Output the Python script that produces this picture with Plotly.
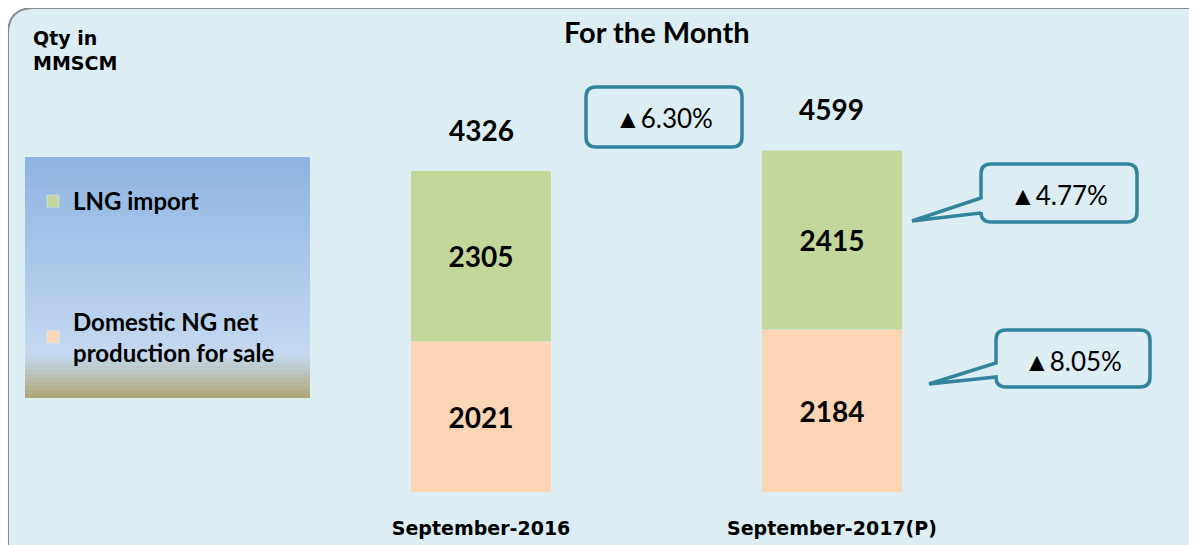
import plotly.graph_objects as go

months = ['September-2016', 'September-2017(P)']
domestic = [2021, 2184]
lng = [2305, 2415]
totals = [4326, 4599]
growth_total = '▲6.30%'
growth_lng = '▲4.77%'
growth_domestic = '▲8.05%'

W, H = 1197, 545
OFF = 8  # page body margin
BOTTOM = 61
PLOT_H = H - BOTTOM
FONT = 'Lato'
TEAL = '#31849B'
BG = '#DCEEF4'


def px(x):
    return (x - OFF) / W


def py(y):
    return (PLOT_H - (y - OFF)) / PLOT_H


def rounded_box(x0, y0, x1, y1, r, tail=None):
    # pixel coords -> path in paper coords, optional callout tail on the left side
    pts = 'M %f,%f L %f,%f Q %f,%f %f,%f ' % (px(x0 + r), py(y0), px(x1 - r), py(y0), px(x1), py(y0), px(x1), py(y0 + r))
    pts += 'L %f,%f Q %f,%f %f,%f ' % (px(x1), py(y1 - r), px(x1), py(y1), px(x1 - r), py(y1))
    pts += 'L %f,%f Q %f,%f %f,%f ' % (px(x0 + r), py(y1), px(x0), py(y1), px(x0), py(y1 - r))
    if tail:
        ty1, ty2, tx, ty = tail
        pts += 'L %f,%f L %f,%f L %f,%f ' % (px(x0), py(ty2), px(tx), py(ty), px(x0), py(ty1))
    pts += 'L %f,%f Q %f,%f %f,%f Z' % (px(x0), py(y0 + r), px(x0), py(y0), px(x0 + r), py(y0))
    return pts


fig = go.Figure()

fig.add_trace(go.Bar(
    x=months, y=domestic,
    name='Domestic NG net<br>production for sale',
    legendgroup='dom', legendrank=2,
    marker_color='#FCD5B5',
    width=0.4,
    text=domestic,
    textposition='inside',
    insidetextanchor='middle',
    textfont=dict(family=FONT, size=28, color='black', weight='bold'),
))
fig.add_trace(go.Bar(
    x=months, y=lng,
    name='LNG import',
    legendgroup='lng', legendrank=1,
    marker_color='#C4D79B',
    width=0.4,
    text=lng,
    textposition='inside',
    insidetextanchor='middle',
    textfont=dict(family=FONT, size=28, color='black', weight='bold'),
))

shapes = []
# outer panel
shapes.append(dict(
    type='path', xref='paper', yref='paper', layer='below',
    path='M %f,%f L %f,%f Q %f,%f %f,%f L %f,%f L %f,%f Z' % (
        px(8), py(570), px(8), py(34), px(8), py(8), px(34), py(8),
        px(1190), py(8), px(1190), py(570)),
    fillcolor=BG, line=dict(color='#8C8C8C', width=2),
))

# legend panel gradient
stops = [(0.0, (141, 180, 226)), (0.82, (198, 217, 240)), (0.88, (190, 200, 200)), (1.0, (176, 164, 118))]
top, bot = 157, 398
n = 60
for i in range(n):
    t = (i + 0.5) / n
    for j in range(len(stops) - 1):
        if stops[j][0] <= t <= stops[j + 1][0]:
            a, ca = stops[j]
            b, cb = stops[j + 1]
            f = (t - a) / (b - a)
            c = tuple(int(ca[k] + (cb[k] - ca[k]) * f) for k in range(3))
            break
    y0 = top + (bot - top) * i / n
    y1 = top + (bot - top) * (i + 1) / n + 0.6
    shapes.append(dict(
        type='rect', xref='paper', yref='paper', layer='below',
        x0=px(25), x1=px(310), y0=py(y0), y1=py(min(y1, bot)),
        fillcolor='rgb(%d,%d,%d)' % c, line=dict(width=0),
    ))

# callouts
shapes.append(dict(type='path', xref='paper', yref='paper',
                   path=rounded_box(586, 87, 742, 147, 10),
                   fillcolor=BG, line=dict(color=TEAL, width=3.5)))
shapes.append(dict(type='path', xref='paper', yref='paper',
                   path=rounded_box(981, 164, 1137, 222, 10, tail=(198, 213, 912, 221)),
                   fillcolor=BG, line=dict(color=TEAL, width=3.5)))
shapes.append(dict(type='path', xref='paper', yref='paper',
                   path=rounded_box(996, 330, 1150, 387, 10, tail=(363, 377, 929, 384)),
                   fillcolor=BG, line=dict(color=TEAL, width=3.5)))

annotations = []
for m, t in zip(months, totals):
    annotations.append(dict(
        x=m, y=t, xref='x', yref='y', text=str(t), showarrow=False,
        yshift=41, xanchor='center', yanchor='middle',
        font=dict(family=FONT, size=28, color='black', weight='bold'),
    ))


def label(x, y, text, font, **kw):
    d = dict(x=px(x), y=py(y), xref='paper', yref='paper', text=text, showarrow=False,
             xanchor='center', yanchor='middle', font=font)
    d.update(kw)
    annotations.append(d)


callout_font = dict(family=FONT, size=26, color='black')
label(664, 118, growth_total, callout_font)
label(1059, 195, growth_lng, callout_font)
label(1073, 361, growth_domestic, callout_font)
label(657, 32, 'For the Month', dict(family=FONT, size=29, color='black', weight='bold'))
label(31, 25, 'Qty in<br>MMSCM', dict(family='DejaVu Sans', size=19, color='black', weight='bold'),
      xanchor='left', yanchor='top', align='left')

fig.update_layout(
    width=W, height=H,
    margin=dict(l=0, r=0, t=0, b=BOTTOM),
    barmode='stack',
    paper_bgcolor='white',
    plot_bgcolor='rgba(0,0,0,0)',
    shapes=shapes,
    annotations=annotations,
    showlegend=True,
    legend=dict(
        x=px(33), y=py(179), xanchor='left', yanchor='top',
        bgcolor='rgba(0,0,0,0)',
        font=dict(family=FONT, size=24, color='black', weight='bold'),
        tracegroupgap=86,
        traceorder='grouped',
        itemclick=False, itemdoubleclick=False,
    ),
)
fig.update_xaxes(
    type='category', range=[-1.348, 2.063],
    showgrid=False, zeroline=False, showline=False, ticks='',
    tickfont=dict(family='DejaVu Sans', size=19, color='black', weight='bold'),
    ticklabelstandoff=23,
)
fig.update_yaxes(range=[0, 6514], visible=False, showgrid=False, zeroline=False)

fig.write_html('out.html')
